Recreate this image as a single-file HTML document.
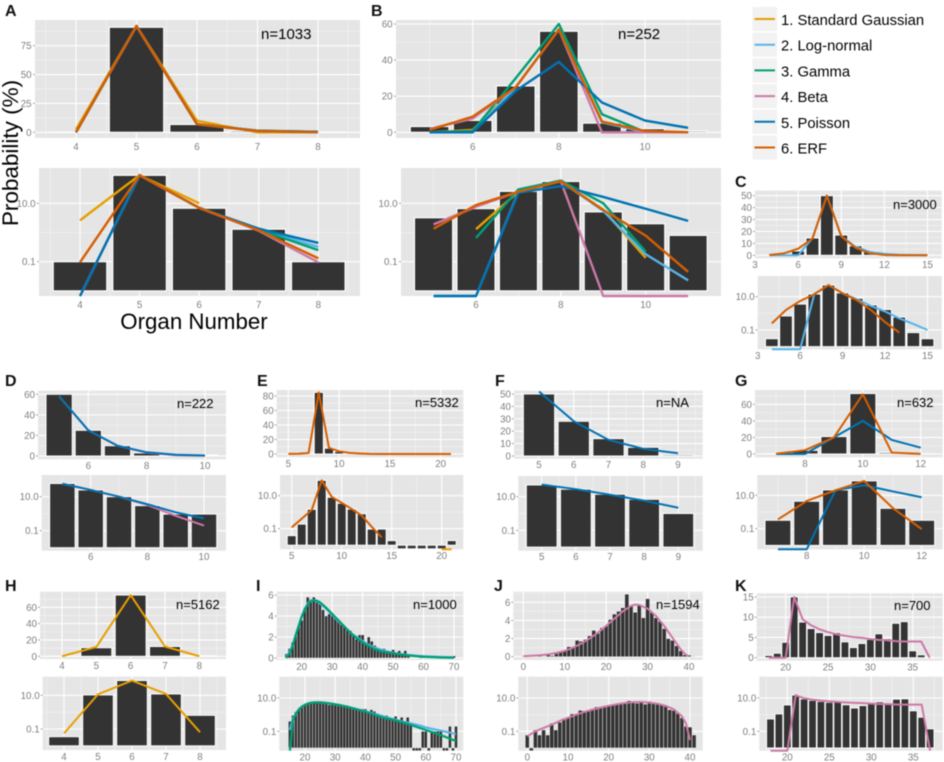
<!DOCTYPE html>
<html lang="en">
<head>
<meta charset="utf-8">
<title>Organ number distributions</title>
<style>
html,body{margin:0;padding:0;background:#fff;}
svg{display:block;font-family:"Liberation Sans",sans-serif;filter:blur(.4px);}
</style>
</head>
<body>
<svg id="chart" xmlns="http://www.w3.org/2000/svg" width="944" height="762" viewBox="0 0 944 762">
  <rect width="944" height="762" fill="#fff"/>
  <g id="panels"></g>
  <g font-weight="bold" font-size="16" fill="#111">
    <text x="5" y="16">A</text>
    <text x="371" y="16">B</text>
    <text x="735" y="187">C</text>
    <text x="5" y="386">D</text>
    <text x="257" y="386">E</text>
    <text x="495" y="386">F</text>
    <text x="735" y="386">G</text>
    <text x="5" y="591">H</text>
    <text x="256" y="591">I</text>
    <text x="494" y="591">J</text>
    <text x="735" y="591">K</text>
  </g>
  <g fill="#000">
    <text x="261" y="39" font-size="15">n=1033</text>
    <text x="618" y="39" font-size="15">n=252</text>
    <text x="893" y="209" font-size="13">n=3000</text>
    <text x="177" y="408" font-size="13">n=222</text>
    <text x="415" y="407" font-size="13">n=5332</text>
    <text x="656" y="407" font-size="13">n=NA</text>
    <text x="897" y="407" font-size="13">n=632</text>
    <text x="176" y="609" font-size="13">n=5162</text>
    <text x="413" y="609" font-size="13">n=1000</text>
    <text x="656" y="609" font-size="13">n=1594</text>
    <text x="894" y="610" font-size="13">n=700</text>
  </g>
  <text transform="translate(18,153) rotate(-90)" text-anchor="middle" font-size="22.5" fill="#000">Probability (%)</text>
  <text x="194" y="329" text-anchor="middle" font-size="22.3" fill="#000">Organ Number</text>
  <g font-size="14.8" fill="#000">
    <rect x="752.5" y="7" width="24.5" height="24" fill="#f2f2f2"/>
    <line x1="754.5" x2="775" y1="19" y2="19" stroke="#E69F00" stroke-width="2"/>
    <text x="781" y="25">1. Standard Gaussian</text>
    <rect x="752.5" y="32.7" width="24.5" height="24" fill="#f2f2f2"/>
    <line x1="754.5" x2="775" y1="44.7" y2="44.7" stroke="#56B4E9" stroke-width="2"/>
    <text x="781" y="50.5">2. Log-normal</text>
    <rect x="752.5" y="58.4" width="24.5" height="24" fill="#f2f2f2"/>
    <line x1="754.5" x2="775" y1="70.4" y2="70.4" stroke="#009E73" stroke-width="2"/>
    <text x="781" y="76.5">3. Gamma</text>
    <rect x="752.5" y="84.1" width="24.5" height="24" fill="#f2f2f2"/>
    <line x1="754.5" x2="775" y1="96.1" y2="96.1" stroke="#CC79A7" stroke-width="2"/>
    <text x="781" y="102">4. Beta</text>
    <rect x="752.5" y="109.8" width="24.5" height="24" fill="#f2f2f2"/>
    <line x1="754.5" x2="775" y1="121.8" y2="121.8" stroke="#0072B2" stroke-width="2"/>
    <text x="781" y="128">5. Poisson</text>
    <rect x="752.5" y="135.5" width="24.5" height="24" fill="#f2f2f2"/>
    <line x1="754.5" x2="775" y1="147.5" y2="147.5" stroke="#D55E00" stroke-width="2"/>
    <text x="781" y="153.5">6. ERF</text>
  </g>
</svg>
<script>
// Panel A
const aCategories = [4, 5, 6, 7, 8];
const aBars = [0.1, 91, 6.8, 1.3, 0.1];
const aGaussian = [2.6, 92, 10, null, null];
const aLogNormal = [0, 92, 7, 1.3, 0.32];
const aGamma = [0, 92, 7, 1.25, 0.25];
const aBeta = [0, 92, 7, 1.15, 0.095];
const aPoisson = [0, 92, 7, 1.35, 0.44];
const aErf = [0.095, 92, 7, 1.2, 0.13];
const aXTicks = [4, 5, 6, 7, 8];
const aYTicks = [0, 25, 50, 75];
// Panel B
const bCategories = [5, 6, 7, 8, 9, 10, 11];
const bBars = [3.2, 6.6, 25.7, 56, 5.1, 2, 0.8];
const bGaussian = [null, 1.3, 25, 57, 6, 0.135, null];
const bLogNormal = [0, 0, 25, 57, 5.5, 0.18, 0.023];
const bGamma = [null, 0.65, 30, 60, 10, 0.22, null];
const bBeta = [1.9, 7.6, 25, 57, 0, 0, 0];
const bPoisson = [0, 0, 23, 39, 16.5, 6.5, 2.5];
const bErf = [1.35, 8.7, 25, 57, 5.9, 0.78, 0.045];
const bXTicks = [6, 8, 10];
const bYTicks = [0, 20, 40, 60];
// Panel C
const cCategories = [4, 5, 6, 7, 8, 9, 10, 11, 12, 13, 14, 15];
const cBars = [0.03, 0.7, 3.6, 14.5, 50, 17, 8, 3.2, 1.7, 0.6, 0.07, 0.03];
const cLogNormal = [0, 0, 0, 14.5, 50, 16, 7, 2.8, 1.3, 0.5, 0.23, 0.1];
const cErf = [0.25, 1.6, 5.5, 14, 50, 16, 6.3, 1.6, 0.3, 0.07, null, null];
const cXTicks = [3, 6, 9, 12, 15];
const cYTicks = [0, 10, 20, 30, 40, 50];
// Panel D
const dCategories = [5, 6, 7, 8, 9, 10];
const dBars = [60, 25, 10, 3, 0.95, 0.95];
const dBeta = [58, 25, 10, 3.3, 0.75, 0.2];
const dPoisson = [58, 25, 10, 3.6, 1.2, 0.53];
const dXTicks = [6, 8, 10];
const dYTicks = [0, 20, 40, 60];
// Panel E
const eCategories = [5, 6, 7, 8, 9, 10, 11, 12, 13, 14, 15, 16, 17, 18, 19, 20, 21];
const eBars = [0.038, 0.19, 1.5, 85, 8, 3.5, 1.55, 0.8, 0.095, 0.095, 0.019, 0.006, 0.006, 0.006, 0.006, 0.006, 0.019];
const eErf = [0.12, 0.4, 1.35, 85, 8.5, 3.7, 1.55, 0.63, 0.13, 0.03, null, null, null, null, null, null, null];
const eGaussianX = [20, 21];
const eGaussian = [0, 0];
const eXTicks = [5, 10, 15, 20];
const eYTicks = [0, 20, 40, 60, 80];
// Panel F
const fCategories = [5, 6, 7, 8, 9];
const fBars = [50, 28, 14, 7, 1];
const fPoisson = [52, 28, 13, 5.8, 2.2];
const fXTicks = [5, 6, 7, 8, 9];
const fYTicks = [0, 10, 20, 30, 40, 50];
// Panel G
const gCategories = [7, 8, 9, 10, 11, 12];
const gBars = [0.32, 4.4, 21, 73, 1.66, 0.32];
const gPoisson = [0, 0, 20, 40, 17, 7.6];
const gErf = [0.36, 4.6, 20, 72, 1.7, 0.095];
const gXTicks = [8, 10, 12];
const gYTicks = [0, 20, 40, 60];
// Panel H
const hCategories = [4, 5, 6, 7, 8];
const hBars = [0.035, 10.5, 75, 12, 0.65];
const hGaussian = [0.055, 11.5, 75, 12, 0.065];
const hXTicks = [4, 5, 6, 7, 8];
const hYTicks = [0, 20, 40, 60];
// Panel I
const iCategories = [15, 16, 17, 18, 19, 20, 21, 22, 23, 24, 25, 26, 27, 28, 29, 30, 31, 32, 33, 34, 35, 36, 37, 38, 39, 40, 41, 42, 43, 44, 45, 46, 47, 48, 49, 50, 51, 52, 53, 54, 55, 56, 57, 58, 59, 60, 61, 62, 63, 64, 65, 66, 67, 68, 69, 70];
const iBars = [0.4, 0.9, 1.5, 2.2, 3.1, 3.6, 4.8, 5.8, 5.3, 5.8, 5.3, 5.2, 4.6, 4, 4.2, 4.1, 3.9, 3.6, 3.2, 3, 2.7, 2.6, 2.1, 1.8, 2.2, 2.2, 1.5, 2, 1.6, 1.2, 0.9, 0.8, 0.9, 0.7, 0.6, 0.8, 0.5, 0.7, 0.4, 0.7, 0.3, 0.006, 0.006, 0.006, 0.1, 0.1, 0.006, 0.1, 0.1, 0.1, 0.1, 0.006, 0.006, 0.2, 0.006, 0.2];
const iCurveX = [15, 16, 17, 18, 19, 20, 21, 22, 23, 24, 25, 26, 28, 30, 32, 34, 36, 38, 40, 42, 44, 46, 48, 50, 52, 55, 58, 60, 63, 66, 70];
const iLogNormal = [0.12, 0.6, 1.2, 2.2, 3.1, 4, 4.7, 5.2, 5.5, 5.5, 5.4, 5.2, 4.7, 4.1, 3.5, 3, 2.4, 2, 1.6, 1.25, 1, 0.8, 0.62, 0.5, 0.4, 0.3, 0.22, 0.17, 0.13, 0.1, 0.069];
const iGamma = [0, 0.45, 1.1, 2.1, 3, 3.9, 4.6, 5.1, 5.4, 5.5, 5.45, 5.3, 4.8, 4.2, 3.6, 3, 2.4, 1.9, 1.5, 1.15, 0.85, 0.65, 0.55, 0.45, 0.36, 0.24, 0.16, 0.12, 0.08, 0.05, 0.026];
const iXTicks = [20, 30, 40, 50, 60, 70];
const iYTicks = [0, 2, 4, 6];
// Panel J
const jCategories = [0, 1, 2, 3, 4, 5, 6, 7, 8, 9, 10, 11, 12, 13, 14, 15, 16, 17, 18, 19, 20, 21, 22, 23, 24, 25, 26, 27, 28, 29, 30, 31, 32, 33, 34, 35, 36, 37, 38, 39, 40, 41];
const jBars = [0.06, 0.006, 0.12, 0.06, 0.12, 0.06, 0.3, 0.12, 0.35, 0.6, 0.7, 1.1, 1.1, 1.8, 1.7, 1.9, 2.3, 2.9, 2.6, 3.2, 3.4, 4.1, 4.7, 5, 5.4, 6.9, 5.6, 4.9, 5.7, 4.3, 6.4, 4.9, 4.3, 3.9, 3.1, 2, 1.8, 1.2, 0.65, 0.2, 0.18, 0.06];
const jCurveX = [0, 2, 4, 6, 8, 10, 12, 14, 16, 18, 20, 22, 24, 26, 27, 28, 30, 32, 34, 36, 38, 39, 40];
const jBeta = [0.05, 0.1, 0.16, 0.25, 0.42, 0.65, 1, 1.45, 2, 2.65, 3.4, 4.2, 5, 5.6, 5.75, 5.7, 5.3, 4.5, 3.4, 2.1, 0.8, 0.3, 0.03];
const jXTicks = [0, 10, 20, 30, 40];
const jYTicks = [0, 2, 4, 6];
// Panel K
const kCategories = [18, 19, 20, 21, 22, 23, 24, 25, 26, 27, 28, 29, 30, 31, 32, 33, 34, 35, 36, 37];
const kBars = [0.55, 1.1, 3.8, 15, 8.8, 7.2, 6.2, 5.5, 6.2, 3.9, 2.5, 3.5, 4.5, 5.9, 4.7, 8.5, 8.9, 1.7, 0.7, 0.14];
const kBeta = [0, 0, 0, 15, 9.5, 8, 7, 6.3, 5.8, 5.4, 5.1, 4.9, 4.6, 4.4, 4.3, 4.1, 4, 4, 4, 0];
const kXTicks = [20, 25, 30, 35];
const kYTicks = [0, 5, 10, 15];
// Shared log-axis ticks
const logTickValues = [10, 0.1];
const logTickLabels = ['10.0', '0.1'];
const logMinorValues = [1];
const logBarBase = 0.01;

const seriesColors = {gaussian:'#E69F00', lognormal:'#56B4E9', gamma:'#009E73', beta:'#CC79A7', poisson:'#0072B2', erf:'#D55E00'};

// Layout: r = plot rectangle [left,right,top,bottom]; xa/ya = axis calibration [value,px,value,px];
// sw = bar outline, bw = bar width fraction, lw = line width, lo = x label offset, yg = y label gap
const panels = [
 {id:'a', cats:aCategories, bars:aBars, xt:aXTicks, yt:aYTicks, sw:1.2, bw:0.9, lw:2.4, lo:12, yg:3.4,
  lines:[['gaussian',aCategories,aGaussian],['lognormal',aCategories,aLogNormal],['gamma',aCategories,aGamma],['beta',aCategories,aBeta],['poisson',aCategories,aPoisson],['erf',aCategories,aErf]],
  top:{r:[35,360,20,138], xa:[4,76,8,318], ya:[0,132.3,75,45.7]},
  bot:{r:[39,360,168,296], xa:[4,80,8,318.3], ya:[1,203.3,-1,261.7]}},
 {id:'b', cats:bCategories, bars:bBars, xt:bXTicks, yt:bYTicks, sw:1.2, bw:0.9, lw:2.4, lo:12, yg:3.4,
  lines:[['gaussian',bCategories,bGaussian],['lognormal',bCategories,bLogNormal],['gamma',bCategories,bGamma],['beta',bCategories,bBeta],['poisson',bCategories,bPoisson],['erf',bCategories,bErf]],
  top:{r:[396,721,20,138], xa:[6,472.7,10,645], ya:[0,132.3,60,24]},
  bot:{r:[401,721,168,296], xa:[6,476,10,645.7], ya:[1,203.3,-1,261.7]}},
 {id:'c', cats:cCategories, bars:cBars, xt:cXTicks, yt:cYTicks, sw:1, bw:0.9, lw:2, lo:9.5, yg:3,
  lines:[['lognormal',cCategories,cLogNormal],['erf',cCategories,cErf]],
  top:{r:[755,941.7,190.7,258.3], xa:[3,755,15,927.5], ya:[0,255.3,50,195.7]},
  bot:{r:[757.7,941.7,276,349.3], xa:[3,757.7,15,927.5], ya:[1,296.7,-1,330]}},
 {id:'d', cats:dCategories, bars:dBars, xt:dXTicks, yt:dYTicks, sw:1, bw:0.9, lw:2, lo:9.5, yg:3,
  lines:[['beta',dCategories,dBeta],['poisson',dCategories,dPoisson]],
  top:{r:[38,226,390.7,459.3], xa:[6,88.3,10,205], ya:[0,456,60,394.3]},
  bot:{r:[41.7,226,475,550.7], xa:[6,90.7,10,204], ya:[1,496.7,-1,530.7]}},
 {id:'e', cats:eCategories, bars:eBars, xt:eXTicks, yt:eYTicks, sw:1, bw:0.9, lw:2, lo:9.5, yg:3,
  lines:[['gaussian',eGaussianX,eGaussian],['erf',eCategories,eErf]],
  top:{r:[276.7,463.3,390,457.3], xa:[5,288.3,20,440.7], ya:[0,454,80,396]},
  bot:{r:[280,463.3,475,549.3], xa:[5,291.7,20,441.7], ya:[1,495.7,-1,528.7]}},
 {id:'f', cats:fCategories, bars:fBars, xt:fXTicks, yt:fYTicks, sw:1, bw:0.9, lw:2, lo:9.5, yg:3,
  lines:[['poisson',fCategories,fPoisson]],
  top:{r:[514,702.7,390.7,458.7], xa:[5,539,9,678], ya:[0,456,50,394]},
  bot:{r:[518.3,702.7,476,550.7], xa:[5,541.7,9,678.3], ya:[1,496.7,-1,530.3]}},
 {id:'g', cats:gCategories, bars:gBars, xt:gXTicks, yt:gYTicks, sw:1, bw:0.9, lw:2, lo:9.5, yg:3,
  lines:[['poisson',gCategories,gPoisson],['erf',gCategories,gErf]],
  top:{r:[755,942.7,390,457.3], xa:[8,805,12,920.7], ya:[0,454,60,404.3]},
  bot:{r:[757.3,942.7,475,549.3], xa:[8,806.7,12,921.7], ya:[1,495.3,-1,528.7]}},
 {id:'h', cats:hCategories, bars:hBars, xt:hXTicks, yt:hYTicks, sw:1, bw:0.9, lw:2, lo:10, yg:3,
  lines:[['gaussian',hCategories,hGaussian]],
  top:{r:[40,226,591.7,659], xa:[4,62,8,199.3], ya:[0,656.3,60,607.3]},
  bot:{r:[42.7,226,676.7,750], xa:[4,64,8,200], ya:[1,695.3,-1,729]}},
 {id:'i', cats:iCategories, bars:iBars, xt:iXTicks, yt:iYTicks, sw:0.35, bw:0.98, lw:2.2, lo:10, yg:3,
  lines:[['lognormal',iCurveX,iLogNormal],['gamma',iCurveX,iGamma]],
  top:{r:[276.7,463.3,591.7,660], xa:[20,301.7,70,454], ya:[0,658,6,595]},
  bot:{r:[279.3,463.3,676.7,750.7], xa:[20,305,70,456], ya:[1,698,-1,731.3]}},
 {id:'j', cats:jCategories, bars:jBars, xt:jXTicks, yt:jYTicks, sw:0.4, bw:0.98, lw:2, lo:10, yg:3,
  lines:[['beta',jCurveX,jBeta]],
  top:{r:[513.3,702.7,591.7,660], xa:[0,523.3,40,689], ya:[0,656.7,6,602.3]},
  bot:{r:[518.3,702.7,676.7,750.7], xa:[0,527.3,40,690], ya:[1,698,-1,731.3]}},
 {id:'k', cats:kCategories, bars:kBars, xt:kXTicks, yt:kYTicks, sw:0.9, bw:0.92, lw:2, lo:10, yg:3,
  lines:[['beta',kCategories,kBeta]],
  top:{r:[756.7,942.7,593.3,660.7], xa:[20,785.7,35,912.7], ya:[0,657.7,15,597]},
  bot:{r:[759.3,942.7,676.7,750.7], xa:[20,787.3,35,913.3], ya:[1,698,-1,731.3]}}
];

const SVGNS = 'http://www.w3.org/2000/svg';
const root = document.getElementById('panels');

function make(parent, tag, attrs) {
  const el = document.createElementNS(SVGNS, tag);
  for (const k in attrs) el.setAttribute(k, attrs[k]);
  parent.appendChild(el);
  return el;
}
function linearScale(a) {
  return function (v) { return a[1] + (v - a[0]) * (a[3] - a[1]) / (a[2] - a[0]); };
}

function drawGrid(g, r, xs, ys, xTicks, yMajor, yMinor) {
  const step = xTicks.length > 1 ? xTicks[1] - xTicks[0] : 1;
  for (let v = xTicks[0] - step * 0.5; v <= xTicks[xTicks.length - 1] + step * 0.5 + 1e-6; v += step) {
    const px = xs(v);
    if (px <= r[0] || px >= r[1]) continue;
    const el = make(g, 'line', {x1:px, x2:px, y1:r[2], y2:r[3], stroke:'#f2f2f2', 'stroke-width':0.7});
    
    
  }
  yMinor.forEach(function (py) {
    if (py <= r[2] || py >= r[3]) return;
    const el = make(g, 'line', {x1:r[0], x2:r[1], y1:py, y2:py, stroke:'#f2f2f2', 'stroke-width':0.7});
    
    
  });
  xTicks.forEach(function (v) {
    const px = xs(v);
    if (px <= r[0] || px >= r[1]) return;
    const el = make(g, 'line', {x1:px, x2:px, y1:r[2], y2:r[3], stroke:'#fff', 'stroke-width':1.1});
    
    
  });
  yMajor.forEach(function (py) {
    const el = make(g, 'line', {x1:r[0], x2:r[1], y1:py, y2:py, stroke:'#fff', 'stroke-width':1.1});
    
    
  });
}

function drawAxisLabels(g, r, xs, xTicks, yPositions, yLabels, p) {
  xTicks.forEach(function (v) {
    const t = make(g, 'text', {x:xs(v), y:r[3] + p.lo, 'text-anchor':'middle', 'font-size':9.8, fill:'#7f7f7f'});
    t.textContent = String(v);
    
    
  });
  yPositions.forEach(function (py, i) {
    const t = make(g, 'text', {x:r[0] - p.yg, y:py + 3.5, 'text-anchor':'end', 'font-size':9.8, fill:'#7f7f7f'});
    t.textContent = yLabels[i];
    
    
    const m = make(g, 'line', {x1:r[0] - 2, x2:r[0], y1:py, y2:py, stroke:'#8a8a8a', 'stroke-width':0.8});
    
    
  });
}

function drawBars(g, p, xs, ys, base) {
  const w = Math.abs(xs(1) - xs(0)) * p.bw;
  p.cats.forEach(function (c, i) {
    const y0 = ys(base);
    const y1 = ys(p.bars[i]);
    const el = make(g, 'rect', {x:xs(c) - w / 2, y:Math.min(y0, y1), width:w, height:Math.abs(y0 - y1), fill:'#333', stroke:'#fff', 'stroke-width':p.sw});
    
    
  });
}

function drawSeries(g, p, xs, ys, isLog) {
  p.lines.forEach(function (s) {
    const pathParts = [];
    let pen = false;
    s[1].forEach(function (x, i) {
      let v = s[2][i];
      if (v === null) {
        if (isLog) { pen = false; return; }
        v = 0;
      }
      pathParts.push((pen ? 'L' : 'M') + xs(x).toFixed(2) + ' ' + ys(v).toFixed(2));
      pen = true;
    });
    const el = make(g, 'path', {d:pathParts.join(''), fill:'none', stroke:seriesColors[s[0]], 'stroke-width':p.lw, 'stroke-linejoin':'round', 'stroke-linecap':'butt'});
    
    
  });
}

panels.forEach(function (p) {
  // Linear chart
  const tg = make(root, 'g', {});
  
  
  const tr = p.top.r;
  const bgTop = make(tg, 'rect', {x:tr[0], y:tr[2], width:tr[1] - tr[0], height:tr[3] - tr[2], fill:'#e5e5e5'});
  
  
  const txs = linearScale(p.top.xa);
  const tys = linearScale(p.top.ya);
  const yMajor = p.yt.map(tys);
  const yStep = p.yt[1] - p.yt[0];
  const yMinor = p.yt.map(function (v) { return tys(v + yStep / 2); });
  drawGrid(tg, tr, txs, tys, p.xt, yMajor, yMinor);
  drawBars(tg, p, txs, tys, 0);
  drawSeries(tg, p, txs, tys, false);
  drawAxisLabels(tg, tr, txs, p.xt, yMajor, p.yt.map(String), p);

  // Log chart
  const bg = make(root, 'g', {});
  
  
  const br = p.bot.r;
  const bgBot = make(bg, 'rect', {x:br[0], y:br[2], width:br[1] - br[0], height:br[3] - br[2], fill:'#e5e5e5'});
  
  
  const bxs = linearScale(p.bot.xa);
  const logPx = linearScale(p.bot.ya);
  const bys = function (v) { return v <= 0 ? br[3] : Math.min(br[3], logPx(Math.log10(v))); };
  const lMajor = logTickValues.map(bys);
  const lMinor = logMinorValues.map(bys);
  drawGrid(bg, br, bxs, bys, p.xt, lMajor, lMinor);
  drawBars(bg, p, bxs, bys, logBarBase);
  drawSeries(bg, p, bxs, bys, true);
  drawAxisLabels(bg, br, bxs, p.xt, lMajor, logTickLabels, p);
});
</script>
</body>
</html>
